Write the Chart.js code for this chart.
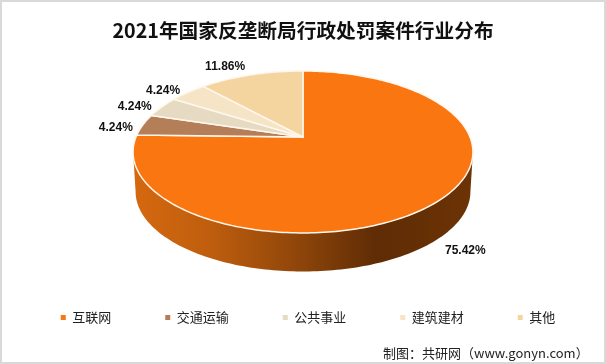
<!DOCTYPE html>
<html>
<head>
<meta charset="utf-8">
<script src="https://cdn.jsdelivr.net/npm/chart.js@4"></script>
<style>
  html, body { margin: 0; padding: 0; background: #fff; overflow: hidden; }
  #wrap { position: relative; width: 606px; height: 364px; }
  #frame { position: absolute; left: 0; top: 0; width: 606px; height: 364px; box-sizing: border-box; border: 2px solid #d9d9d9; pointer-events: none; }
  #source { position: absolute; left: 383px; top: 344px; font: 13px "Noto Sans CJK SC", sans-serif; line-height: 18px; color: #222; white-space: nowrap; }
</style>
</head>
<body>
<div id="wrap">
  <canvas id="pie" width="606" height="364"></canvas>
  <div id="frame"></div>
  <div id="source">制图：共研网（www.gonyn.com）</div>
</div>
<script>
var titleText = '2021年国家反垄断局行政处罚案件行业分布';
var categories = ['互联网', '交通运输', '公共事业', '建筑建材', '其他'];
var shares = [75.42, 4.24, 4.24, 4.24, 11.86];
var sliceColors = ['#FA7610', '#B47F58', '#E6DBC2', '#F5E4C5', '#F4D5A0'];

// label centres, shift from the slice's rim point
var labelShift = [[28, 49], [-27, 3], [-27, 0], [-25, -2], [-26, -8]];

// the pie is tilted: apex sits above the ellipse middle
var CX = 303, CY = 137, RX = 167, RY = 78.2, TILT = 0.185, DEPTH = 40;
var LEGEND_NUDGE = 5;

function project(angle, scale) {
  var u = Math.cos(angle), v = Math.sin(angle), w = 1 - TILT * v;
  return { x: CX + RX * scale * u / w, y: CY + RY * scale * v / w };
}

function rimPath(ctx, from, to, dy, scale, join) {
  var steps = Math.max(2, Math.ceil(Math.abs(to - from) / 0.02));
  for (var i = 0; i <= steps; i++) {
    var p = project(from + (to - from) * i / steps, scale);
    if (i === 0 && !join) ctx.moveTo(p.x, p.y + dy);
    else ctx.lineTo(p.x, p.y + dy);
  }
}

var tiltedPie = {
  id: 'tiltedPie',
  afterLayout: function (chart) {
    chart.legend.left += LEGEND_NUDGE;
    chart.legend.right += LEGEND_NUDGE;
  },
  beforeDatasetDraw: function (chart, args) {
    var ctx = chart.ctx;
    var arcs = args.meta.data;
    var front = Math.asin(TILT);

    // side wall
    var grad = ctx.createLinearGradient(CX - RX, 0, CX + RX, 0);
    grad.addColorStop(0, '#D4680F');
    grad.addColorStop(0.22, '#BF5E0E');
    grad.addColorStop(0.48, '#90460A');
    grad.addColorStop(0.72, '#5F2C05');
    grad.addColorStop(1, '#6C3305');
    ctx.save();
    ctx.beginPath();
    rimPath(ctx, front, Math.PI - front, 0, 1, false);
    rimPath(ctx, Math.PI - front, front, DEPTH, 0.985, true);
    ctx.closePath();
    ctx.fillStyle = grad;
    ctx.fill();

    // top face, angles come from the library's arc elements
    arcs.forEach(function (arc, i) {
      ctx.beginPath();
      ctx.moveTo(CX, CY);
      rimPath(ctx, arc.startAngle, arc.endAngle, 0, 1, true);
      ctx.closePath();
      ctx.fillStyle = sliceColors[i];
      ctx.fill();
      ctx.lineWidth = 1.5;
      ctx.strokeStyle = '#FFF6EC';
      ctx.stroke();
    });

    // value labels
    ctx.font = 'bold 12px "Liberation Sans", sans-serif';
    ctx.fillStyle = '#111';
    ctx.textAlign = 'center';
    ctx.textBaseline = 'middle';
    arcs.forEach(function (arc, i) {
      var p = project((arc.startAngle + arc.endAngle) / 2, 1);
      ctx.fillText(shares[i].toFixed(2) + '%', p.x + labelShift[i][0], p.y + labelShift[i][1]);
    });
    ctx.restore();
    return false;
  }
};

new Chart(document.getElementById('pie'), {
  type: 'pie',
  data: {
    labels: categories,
    datasets: [{ data: shares, backgroundColor: sliceColors, borderWidth: 0 }]
  },
  options: {
    responsive: false,
    animation: false,
    layout: { padding: { bottom: 30 } },
    plugins: {
      tooltip: { enabled: false },
      title: {
        display: true,
        text: titleText,
        color: '#111',
        font: { family: '"Noto Sans CJK SC", sans-serif', size: 19.7, weight: 'bold' },
        padding: { top: 19, bottom: 0 }
      },
      legend: {
        position: 'bottom',
        labels: {
          usePointStyle: true,
          pointStyle: 'rect',
          boxWidth: 5,
          boxHeight: 5,
          padding: 54,
          color: '#222',
          font: { family: '"Noto Sans CJK SC", sans-serif', size: 13 }
        }
      }
    }
  },
  plugins: [tiltedPie]
});
</script>
</body>
</html>
